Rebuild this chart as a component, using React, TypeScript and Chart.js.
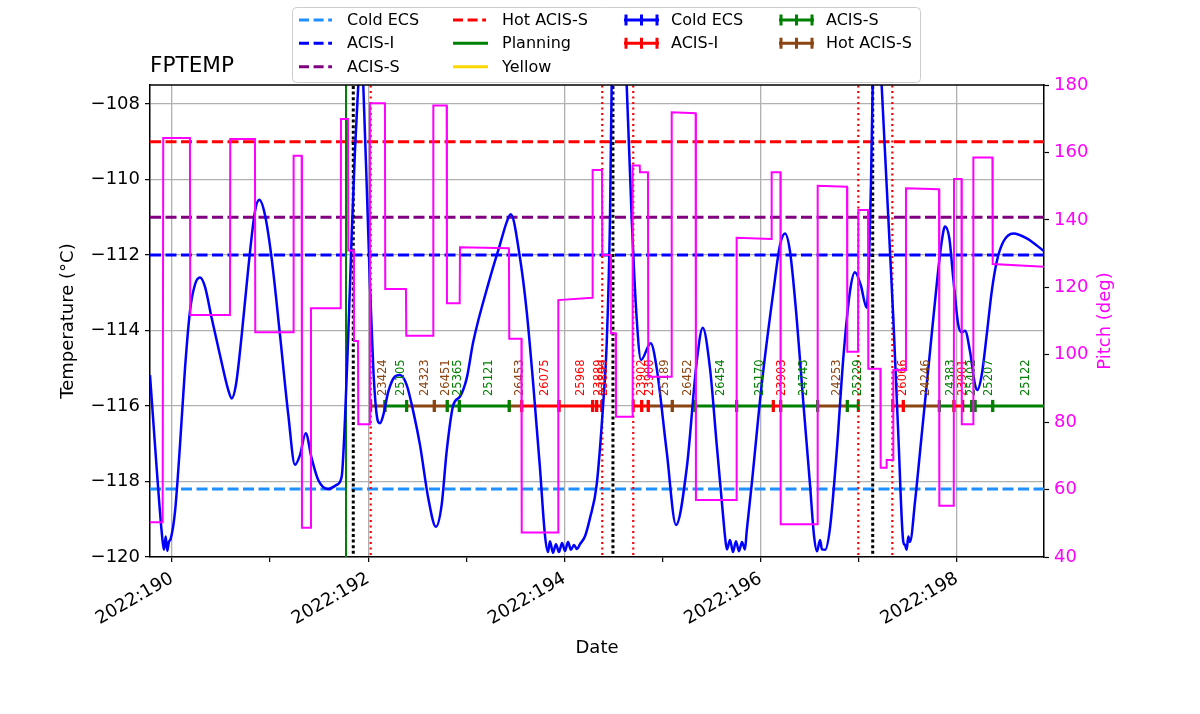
import React, { useEffect, useRef } from 'react';
import { Chart, registerables } from 'chart.js';

Chart.register(...registerables);

const FONT = '"DejaVu Sans", sans-serif';

// ---- axis ranges & ticks ----
const X_MIN = 189.776;
const X_MAX = 198.889;
const DAY_TICKS = [190, 191, 192, 193, 194, 195, 196, 197, 198];
const TEMP_TICKS = [-120, -118, -116, -114, -112, -110, -108];
const PITCH_TICKS = [40, 60, 80, 100, 120, 140, 160, 180];

// ---- FPTEMP model (day of 2022, deg C) ----
const TEMP_TIMES = [
  189.776, 189.844, 189.895, 189.918, 189.936, 189.952, 189.969, 189.987, 190.031, 190.082,
  190.133, 190.183, 190.234, 190.285, 190.336, 190.405, 190.489, 190.574, 190.609, 190.652,
  190.711, 190.778, 190.846, 190.890, 190.948, 191.016, 191.101, 191.186, 191.254, 191.305,
  191.363, 191.424, 191.491, 191.593, 191.679, 191.730, 191.764, 191.797, 191.832, 191.865,
  191.899, 191.925, 191.950, 191.985, 192.018, 192.052, 192.087, 192.120, 192.154, 192.205,
  192.273, 192.324, 192.392, 192.460, 192.528, 192.613, 192.691, 192.749, 192.800, 192.868,
  192.936, 193.004, 193.071, 193.242, 193.344, 193.412, 193.453, 193.548, 193.616, 193.683,
  193.751, 193.802, 193.833, 193.853, 193.884, 193.914, 193.945, 193.976, 194.006, 194.037,
  194.067, 194.098, 194.128, 194.159, 194.210, 194.261, 194.329, 194.397, 194.431, 194.465,
  194.482, 194.557, 194.635, 194.686, 194.737, 194.781, 194.880, 194.941, 195.043, 195.138,
  195.247, 195.349, 195.410, 195.484, 195.553, 195.620, 195.637, 195.657, 195.688, 195.719,
  195.749, 195.780, 195.810, 195.841, 195.858, 195.909, 196.011, 196.130, 196.198, 196.249,
  196.300, 196.368, 196.435, 196.504, 196.544, 196.575, 196.606, 196.626, 196.657, 196.707,
  196.776, 196.843, 196.911, 196.962, 197.020, 197.082, 197.108, 197.125, 197.143, 197.187,
  197.234, 197.285, 197.353, 197.404, 197.455, 197.472, 197.489, 197.506, 197.523, 197.574,
  197.642, 197.727, 197.795, 197.846, 197.880, 197.924, 197.964, 198.015, 198.050, 198.084,
  198.135, 198.186, 198.209, 198.254, 198.305, 198.356, 198.407, 198.474, 198.576, 198.713,
  198.889,
];
const TEMP_VALUES = [
  -115.18, -117.65, -119.33, -119.81, -119.46, -119.84, -119.60, -119.52, -118.80, -117.03,
  -115.00, -113.50, -112.79, -112.60, -112.84, -113.68, -114.65, -115.58, -115.80, -115.44,
  -114.12, -112.35, -110.85, -110.54, -110.94, -112.09, -114.12, -116.24, -117.56, -117.30,
  -116.72, -117.39, -117.96, -118.20, -118.09, -117.87, -116.33, -114.12, -111.47, -109.26,
  -107.50, -106.00, -107.50, -110.15, -112.79, -115.00, -116.24, -116.46, -116.24, -115.62,
  -115.22, -115.18, -115.44, -116.15, -117.03, -118.45, -119.20, -118.62, -117.20, -115.97,
  -115.75, -115.27, -114.30, -112.61, -111.72, -111.13, -110.92, -112.09, -113.50, -115.44,
  -117.64, -119.42, -119.87, -119.58, -119.89, -119.66, -119.87, -119.63, -119.84, -119.60,
  -119.81, -119.68, -119.79, -119.66, -119.45, -118.97, -118.09, -115.89, -114.38, -111.03,
  -107.50, -104.00, -107.50, -111.03, -113.68, -114.78, -114.34, -115.00, -117.21, -119.15,
  -117.65, -114.83, -113.93, -115.00, -117.03, -118.97, -119.45, -119.80, -119.55, -119.87,
  -119.58, -119.85, -119.60, -119.80, -119.33, -118.09, -115.44, -112.97, -111.74, -111.43,
  -111.91, -113.68, -115.89, -118.09, -119.42, -119.85, -119.55, -119.80, -119.81, -119.24,
  -117.21, -114.74, -112.97, -112.46, -112.79, -113.40, -111.91, -110.15, -107.50, -105.00,
  -107.50, -110.15, -113.68, -116.77, -119.60, -119.68, -119.81, -119.46, -119.60, -118.54,
  -116.77, -114.56, -112.79, -111.65, -111.25, -111.56, -112.62, -113.85, -114.05, -114.01,
  -114.56, -115.44, -115.58, -115.18, -114.12, -112.97, -112.18, -111.65, -111.43, -111.56,
  -111.90,
];

// ---- Pitch (deg) ----
const PITCH_TIMES = [
  189.776, 189.905, 189.911, 190.183, 190.186, 190.591, 190.594, 190.846, 190.849, 191.237,
  191.240, 191.322, 191.325, 191.414, 191.417, 191.720, 191.723, 191.794, 191.797, 191.852,
  191.855, 191.896, 191.899, 192.015, 192.018, 192.171, 192.174, 192.385, 192.388, 192.661,
  192.664, 192.800, 192.803, 192.933, 192.936, 193.435, 193.438, 193.562, 193.565, 193.935,
  193.938, 194.285, 194.288, 194.383, 194.386, 194.472, 194.475, 194.523, 194.526, 194.693,
  194.696, 194.768, 194.771, 194.852, 194.855, 195.091, 195.094, 195.338, 195.341, 195.753,
  195.756, 196.110, 196.113, 196.202, 196.205, 196.579, 196.582, 196.881, 196.884, 196.993,
  196.996, 197.095, 197.098, 197.221, 197.224, 197.282, 197.285, 197.350, 197.353, 197.479,
  197.482, 197.819, 197.822, 197.969, 197.972, 198.048, 198.051, 198.166, 198.169, 198.363,
  198.366, 198.889,
];
const PITCH_VALUES = [
  50.3, 50.3, 164.3, 164.3, 111.8, 111.8, 164.0, 164.0, 106.7, 106.7,
  159.0, 159.0, 48.7, 48.7, 113.8, 113.8, 169.9, 169.9, 130.9, 130.9,
  104.1, 104.1, 79.4, 79.4, 174.6, 174.6, 119.5, 119.5, 105.6, 105.6,
  173.9, 173.9, 115.3, 115.3, 131.9, 131.6, 104.7, 104.7, 47.3, 47.3,
  116.2, 116.9, 154.8, 154.8, 129.6, 129.6, 106.4, 106.4, 81.6, 81.6,
  156.1, 156.1, 154.1, 154.1, 93.5, 93.5, 171.9, 171.6, 56.9, 56.9,
  134.7, 134.3, 154.1, 154.1, 49.7, 49.7, 150.1, 149.8, 100.9, 100.9,
  142.9, 142.9, 95.8, 95.8, 66.5, 66.5, 68.8, 68.8, 95.5, 95.5,
  149.4, 149.1, 55.2, 55.2, 152.1, 152.1, 79.4, 79.4, 158.5, 158.5,
  126.9, 126.1,
];

// ---- limits ----
const LIMIT_NAMES = ['Cold ECS', 'ACIS-I', 'ACIS-S', 'Hot ACIS-S'];
const LIMIT_VALUES = [-118.2, -112.0, -111.0, -109.0];
const LIMIT_COLORS = ['#1e90ff', '#0000ff', '#800080', '#ff0000'];

// ---- events ----
const PLANNING_TIMES = [191.774];
const RADZONE_TIMES = [192.026, 194.386, 194.702, 196.996, 197.343];
const PERIGEE_TIMES = [191.848, 194.495, 197.143];

// ---- observations ----
const OBS_LEVEL = -116;
const OBS_STARTS = [
  192.026, 192.171, 192.392, 192.674, 192.806, 192.929, 193.438, 193.565, 193.945, 194.288,
  194.329, 194.702, 194.788, 194.855, 195.100, 195.331, 195.756, 196.130, 196.205, 196.582,
  196.884, 197.347, 197.455, 197.822, 197.971, 198.060, 198.152, 198.186, 198.366,
];
const OBS_ENDS = [
  192.171, 192.392, 192.674, 192.806, 192.929, 193.438, 193.565, 193.945, 194.288, 194.329,
  194.380, 194.788, 194.855, 195.100, 195.331, 195.756, 196.130, 196.205, 196.582, 196.884,
  196.996, 197.455, 197.822, 197.971, 198.060, 198.152, 198.186, 198.366, 198.950,
];
const OBS_IDS = [
  '23424', '25105', '24323', '26451', '25365', '25121', '26453', '26075', '25968', '23889',
  '23899', '23902', '23900', '25189', '26452', '26454', '25170', '23903', '24743', '24253',
  '25229', '26066', '24246', '24383', '23901', '25402', '', '25207', '25122',
];
const OBS_MODES = [
  'Hot ACIS-S', 'ACIS-S', 'Hot ACIS-S', 'Hot ACIS-S', 'ACIS-S', 'ACIS-S', 'Hot ACIS-S', 'ACIS-I', 'ACIS-I', 'ACIS-I',
  'ACIS-I', 'ACIS-I', 'ACIS-I', 'Hot ACIS-S', 'Hot ACIS-S', 'ACIS-S', 'ACIS-S', 'ACIS-I', 'ACIS-S', 'Hot ACIS-S',
  'ACIS-S', 'ACIS-I', 'Hot ACIS-S', 'ACIS-S', 'ACIS-I', 'ACIS-S', 'ACIS-S', 'ACIS-S', 'ACIS-S',
];
const OBS_MODE_NAMES = ['Cold ECS', 'ACIS-I', 'ACIS-S', 'Hot ACIS-S'];
const OBS_MODE_COLORS = ['#0000ff', '#ff0000', '#008000', '#8b4513'];

// ---- legend ----
const LEGEND_LABELS = ['Cold ECS', 'ACIS-I', 'ACIS-S', 'Hot ACIS-S', 'Planning', 'Yellow', 'Cold ECS', 'ACIS-I', 'ACIS-S', 'Hot ACIS-S'];
const LEGEND_KINDS = ['dash', 'dash', 'dash', 'dash', 'solid', 'solid', 'err', 'err', 'err', 'err'];
const LEGEND_COLORS = ['#1e90ff', '#0000ff', '#800080', '#ff0000', '#008000', '#ffd700', '#0000ff', '#ff0000', '#008000', '#8b4513'];

const fmtMinus = (v: number) => (v < 0 ? '\u2212' + Math.abs(v) : String(v));

function vertData(times: number[]) {
  const pts: any[] = [];
  times.forEach((t) => {
    pts.push({ x: t, y: -130 }, { x: t, y: -100 }, { x: t, y: null });
  });
  return pts;
}

function obsData(mode: string) {
  const pts: any[] = [];
  OBS_STARTS.forEach((s, i) => {
    if (OBS_MODES[i] !== mode) return;
    pts.push({ x: s, y: OBS_LEVEL }, { x: OBS_ENDS[i], y: OBS_LEVEL }, { x: OBS_ENDS[i], y: null });
  });
  return pts;
}

const decorPlugin = {
  id: 'decor',
  afterDatasetDraw(chart: any, args: any) {
    const ds = chart.data.datasets[args.index];
    if (ds.label !== 'FPTEMP') return;
    const ctx = chart.ctx;
    const xs = chart.scales.x;
    const ys = chart.scales.y;
    const y0 = ys.getPixelForValue(OBS_LEVEL) - 10;
    ctx.save();
    ctx.font = `11.5px ${FONT}`;
    ctx.textAlign = 'left';
    ctx.textBaseline = 'top';
    OBS_IDS.forEach((id, i) => {
      if (!id) return;
      const mid = (OBS_STARTS[i] + OBS_ENDS[i]) / 2;
      const px = xs.getPixelForValue(mid) - 1;
      ctx.save();
      ctx.translate(px, y0);
      ctx.rotate(-Math.PI / 2);
      ctx.fillStyle = OBS_MODE_COLORS[OBS_MODE_NAMES.indexOf(OBS_MODES[i])];
      ctx.fillText(id, 0, 0);
      ctx.restore();
    });
    ctx.restore();
  },
  afterDraw(chart: any) {
    const ctx = chart.ctx;
    const a = chart.chartArea;
    ctx.save();
    // top spine
    ctx.strokeStyle = '#000';
    ctx.lineWidth = 1.5;
    ctx.beginPath();
    ctx.moveTo(a.left - 0.75, a.top);
    ctx.lineTo(a.right + 0.75, a.top);
    ctx.stroke();

    // title
    ctx.fillStyle = '#000';
    ctx.font = `21.6px ${FONT}`;
    ctx.textAlign = 'left';
    ctx.textBaseline = 'alphabetic';
    ctx.fillText('FPTEMP', a.left, 72);

    // axis titles
    ctx.font = `18px ${FONT}`;
    ctx.textAlign = 'center';
    ctx.textBaseline = 'middle';
    ctx.fillText('Date', (a.left + a.right) / 2, 648);
    ctx.save();
    ctx.translate(68, (a.top + a.bottom) / 2);
    ctx.rotate(-Math.PI / 2);
    ctx.fillText('Temperature (\u00b0C)', 0, 0);
    ctx.restore();
    ctx.save();
    ctx.translate(1105, (a.top + a.bottom) / 2);
    ctx.rotate(-Math.PI / 2);
    ctx.fillStyle = '#ff00ff';
    ctx.fillText('Pitch (deg)', 0, 0);
    ctx.restore();

    // legend
    const bx = 292.5, by = 7.5, bw = 628, bh = 75;
    ctx.beginPath();
    if (ctx.roundRect) ctx.roundRect(bx, by, bw, bh, 4);
    else ctx.rect(bx, by, bw, bh);
    ctx.fillStyle = 'rgba(255,255,255,0.8)';
    ctx.fill();
    ctx.strokeStyle = '#cccccc';
    ctx.lineWidth = 1;
    ctx.stroke();

    const colHandle = [299, 453, 624, 779];
    const colText = [347, 502, 671, 826];
    const handleLen = 33;
    const rowY = [20, 43.3, 66.7];
    const order = [[0, 1, 2], [3, 4, 5], [6, 7], [8, 9]];
    ctx.font = `16px ${FONT}`;
    ctx.textAlign = 'left';
    ctx.textBaseline = 'middle';
    order.forEach((col, c) => {
      col.forEach((idx, r) => {
        const hx = colHandle[c];
        const hy = rowY[r];
        const color = LEGEND_COLORS[idx];
        ctx.strokeStyle = color;
        ctx.lineWidth = 3;
        ctx.lineCap = 'butt';
        const kind = LEGEND_KINDS[idx];
        if (kind === 'dash') {
          ctx.setLineDash([10, 4.6]);
          ctx.beginPath();
          ctx.moveTo(hx, hy);
          ctx.lineTo(hx + handleLen, hy);
          ctx.stroke();
          ctx.setLineDash([]);
        } else if (kind === 'solid') {
          ctx.beginPath();
          ctx.moveTo(hx, hy);
          ctx.lineTo(hx + handleLen + 2, hy);
          ctx.stroke();
        } else {
          ctx.beginPath();
          ctx.moveTo(hx, hy);
          ctx.lineTo(hx + handleLen + 2, hy);
          [hx + 2, hx + 17.5, hx + 33].forEach((vx) => {
            ctx.moveTo(vx, hy - 5.5);
            ctx.lineTo(vx, hy + 5.5);
          });
          ctx.stroke();
        }
        ctx.fillStyle = '#000';
        ctx.fillText(LEGEND_LABELS[idx], colText[c], hy + 1);
      });
    });
    ctx.restore();
  },
};

export default function App() {
  const ref = useRef<HTMLCanvasElement | null>(null);

  useEffect(() => {
    if (!ref.current) return;
    const datasets: any[] = [];

    LIMIT_NAMES.forEach((name, i) => {
      datasets.push({
        label: name + ' limit',
        data: [{ x: X_MIN, y: LIMIT_VALUES[i] }, { x: X_MAX, y: LIMIT_VALUES[i] }],
        borderColor: LIMIT_COLORS[i],
        borderWidth: 3,
        borderDash: [11, 4.5],
        pointRadius: 0,
        yAxisID: 'y',
        order: 10,
      });
    });

    OBS_MODE_NAMES.forEach((mode, i) => {
      datasets.push({
        label: mode + ' obs',
        data: obsData(mode),
        borderColor: OBS_MODE_COLORS[i],
        borderWidth: 3,
        pointStyle: 'line',
        pointRadius: 6,
        pointBorderWidth: 3,
        pointRotation: 90,
        pointBorderColor: OBS_MODE_COLORS[i],
        pointBackgroundColor: OBS_MODE_COLORS[i],
        spanGaps: false,
        yAxisID: 'y',
        order: 8,
      });
    });

    datasets.push({
      label: 'Planning time',
      data: vertData(PLANNING_TIMES),
      borderColor: '#008000',
      borderWidth: 2,
      pointRadius: 0,
      spanGaps: false,
      yAxisID: 'y',
      order: 7,
    });
    datasets.push({
      label: 'Radzone',
      data: vertData(RADZONE_TIMES),
      borderColor: '#ff0000',
      borderWidth: 2.2,
      borderDash: [2.2, 3.3],
      pointRadius: 0,
      spanGaps: false,
      yAxisID: 'y',
      order: 7,
    });
    datasets.push({
      label: 'Perigee',
      data: vertData(PERIGEE_TIMES),
      borderColor: '#000000',
      borderWidth: 3,
      borderDash: [3, 2.6],
      pointRadius: 0,
      spanGaps: false,
      yAxisID: 'y',
      order: 7,
    });

    datasets.push({
      label: 'FPTEMP',
      data: TEMP_TIMES.map((t, i) => ({ x: t, y: TEMP_VALUES[i] })),
      borderColor: '#0000ff',
      borderWidth: 2.5,
      pointRadius: 0,
      cubicInterpolationMode: 'monotone',
      yAxisID: 'y',
      order: 5,
    });

    datasets.push({
      label: 'Pitch',
      data: PITCH_TIMES.map((t, i) => ({ x: t, y: PITCH_VALUES[i] })),
      borderColor: '#ff00ff',
      borderWidth: 2,
      pointRadius: 0,
      yAxisID: 'y2',
      order: 1,
    });

    const chart = new Chart(ref.current, {
      type: 'line',
      data: { datasets },
      plugins: [decorPlugin as any],
      options: {
        animation: false,
        responsive: false,
        events: [],
        layout: { padding: { top: 85, left: 0, right: 0, bottom: 0 } },
        plugins: {
          legend: { display: false },
          title: { display: false },
          tooltip: { enabled: false },
        },
        scales: {
          x: {
            type: 'linear',
            min: X_MIN,
            max: X_MAX,
            afterBuildTicks: (s: any) => {
              s.ticks = DAY_TICKS.map((v) => ({ value: v }));
            },
            afterFit: (s: any) => {
              s.height = 157;
            },
            grid: {
              color: (c: any) => (c.tick && c.tick.value % 2 === 0 ? '#b0b0b0' : 'rgba(0,0,0,0)'),
              lineWidth: 1.3,
              tickColor: '#000',
              tickLength: 5,
              tickWidth: 1.2,
            },
            border: { color: '#000', width: 1.5 },
            ticks: {
              autoSkip: false,
              minRotation: 30,
              maxRotation: 30,
              padding: 6,
              labelOffset: 0,
              color: '#000',
              font: { family: FONT, size: 18 },
              callback: (v: any) => (Number(v) % 2 === 0 ? `2022:${v}` : ''),
            },
          },
          y: {
            type: 'linear',
            position: 'left',
            min: -120,
            max: -107.5,
            afterBuildTicks: (s: any) => {
              s.ticks = TEMP_TICKS.map((v) => ({ value: v }));
            },
            afterFit: (s: any) => {
              s.width = 150;
            },
            grid: { color: '#b0b0b0', lineWidth: 1.3, tickColor: '#000', tickLength: 5, tickWidth: 1.2 },
            border: { color: '#000', width: 1.5 },
            ticks: {
              padding: 5,
              color: '#000',
              font: { family: FONT, size: 18 },
              callback: (v: any) => fmtMinus(Number(v)),
            },
          },
          y2: {
            type: 'linear',
            position: 'right',
            min: 40,
            max: 180,
            afterBuildTicks: (s: any) => {
              s.ticks = PITCH_TICKS.map((v) => ({ value: v }));
            },
            afterFit: (s: any) => {
              s.width = 156;
            },
            grid: { drawOnChartArea: false, color: '#000', tickColor: '#000', tickLength: 5, tickWidth: 1.2 },
            border: { color: '#000', width: 1.5 },
            ticks: {
              padding: 5,
              color: '#ff00ff',
              font: { family: FONT, size: 18 },
              callback: (v: any) => String(v),
            },
          },
        },
      } as any,
    });
    return () => chart.destroy();
  }, []);

  return (
    <div style={{ position: 'absolute', left: 0, top: 0, width: 1200, height: 714, background: '#fff' }}>
      <canvas ref={ref} width={1200} height={714} style={{ display: 'block' }} />
    </div>
  );
}
